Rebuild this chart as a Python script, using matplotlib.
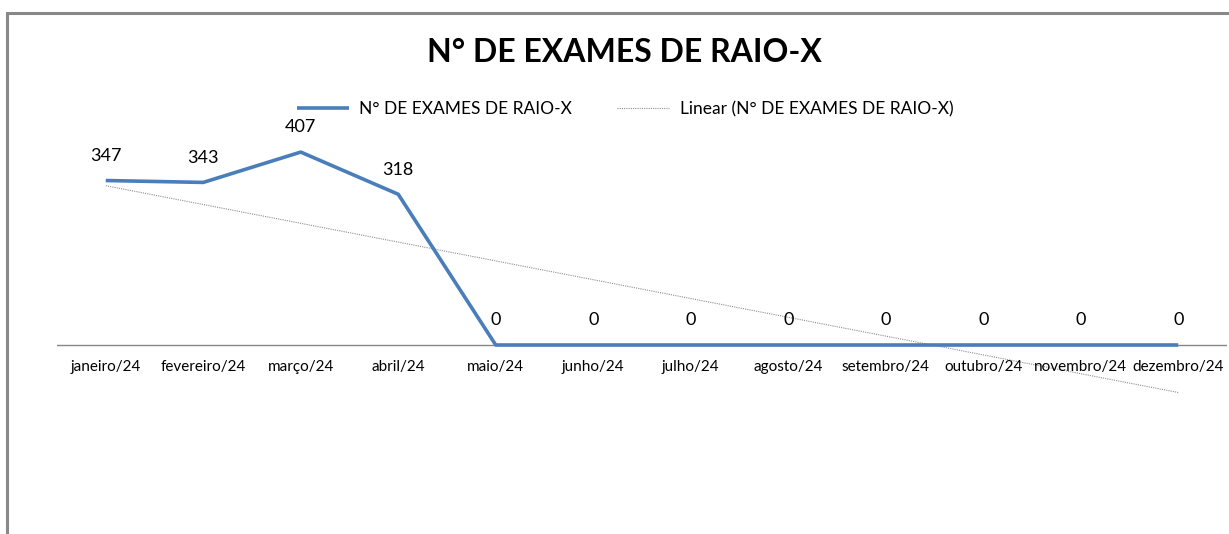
import matplotlib
matplotlib.use("Agg")
import matplotlib.pyplot as plt
import numpy as np

months = ["janeiro/24", "fevereiro/24", "março/24", "abril/24", "maio/24", "junho/24",
          "julho/24", "agosto/24", "setembro/24", "outubro/24", "novembro/24", "dezembro/24"]
exames = [347, 343, 407, 318, 0, 0, 0, 0, 0, 0, 0, 0]
series_name = "N° DE EXAMES DE RAIO-X"

W, H = 1229, 534
fig = plt.figure(figsize=(W / 100, H / 100), dpi=100)
plt.rcParams['font.family'] = ['Lato', 'DejaVu Sans']

# chart border
fig.add_artist(plt.Rectangle((7 / W, -0.01), 1.1, (H - 13) / H + 0.01, transform=fig.transFigure,
                             fill=False, edgecolor="#888888", linewidth=2.2))

left, right = 57, 1227
top, bottom = 131.7, 439.8
ax = fig.add_axes([left / W, 1 - bottom / H, (right - left) / W, (bottom - top) / H])

x = np.arange(1, len(exames) + 1)
ax.plot(x, exames, color="#4A7EBB", linewidth=2.6, solid_capstyle="butt", zorder=3,
        label=series_name)

coef = np.polyfit(x, exames, 1)
trend = np.polyval(coef, x)
ax.plot(x, trend, color="#8f8f8f", linewidth=0.8, linestyle=(0, (1, 1)), zorder=2,
        label="Linear (" + series_name + ")")

for xi, v in zip(x, exames):
    ax.annotate(str(v), (xi, v), xytext=(0, 12), textcoords="offset points",
                ha="center", va="bottom", fontsize=13, color="#000000")

ax.set_xlim(0.5, len(exames) + 0.5)
ax.set_ylim(-200, 450)
ax.axhline(0, color="#868686", linewidth=1.0, zorder=1)
for s in ax.spines.values():
    s.set_visible(False)
ax.set_yticks([])
ax.set_xticks([])
for xi, m in zip(x, months):
    ax.annotate(m, (xi, 0), xytext=(0, -15.5), textcoords="offset points",
                ha="center", va="center", fontsize=11, color="#000000")

fig.text(624 / W, 1 - 53 / H, series_name, ha="center", va="center",
         fontsize=23, fontweight="bold", color="#000000")

fig.legend(loc="center", bbox_to_anchor=(625 / W, 1 - 109 / H), ncol=2, frameon=False,
           fontsize=12.5, handlelength=3.0, columnspacing=2.6, handletextpad=0.6)

fig.savefig("out.png", dpi=100, facecolor="white")
